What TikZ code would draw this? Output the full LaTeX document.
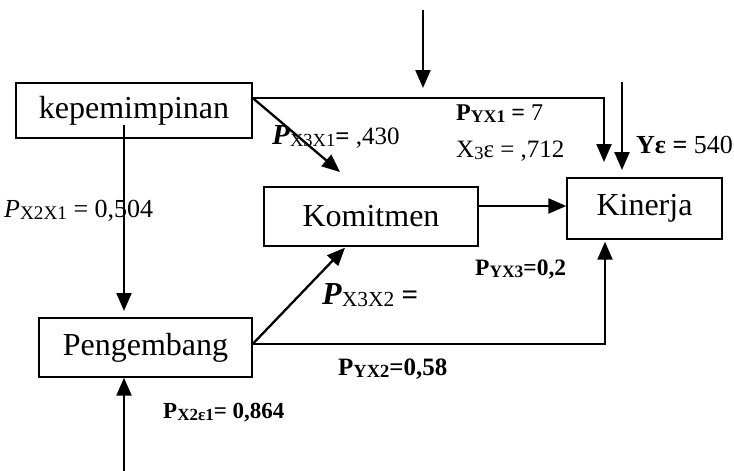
\documentclass[tikz,border=0pt]{standalone}
\usepackage{fontspec}
\setmainfont{Liberation Serif}
\usetikzlibrary{arrows.meta}

% small lowered index for path coefficients
\newcommand\sbs[1]{\raisebox{-0.1em}{\scalebox{0.74}{#1}}}
\newcommand\fsz[1]{\fontsize{#1}{#1}\selectfont}

\tikzset{
  varbox/.style={draw, line width=1.4pt, rectangle, inner sep=0pt, font=\fsz{32}},
  link/.style={line width=2.3pt, -{Triangle[length=18pt,width=15pt]}},
  coef/.style={anchor=base west, inner sep=0pt},
}

\begin{document}
\begin{tikzpicture}[x=1pt,y=-1pt]
  \useasboundingbox (0,0) rectangle (734,471);

  % variables
  \node[varbox, minimum width=236pt, minimum height=55pt] (kep) at (134,110.5) {kepemimpinan};
  \node[varbox, minimum width=214pt, minimum height=59pt] (kom) at (371,216.5) {Komitmen};
  \node[varbox, minimum width=155pt, minimum height=61pt] (kin) at (644.5,208.5) {Kinerja};
  \node[varbox, minimum width=213pt, minimum height=59pt] (pen) at (145.5,347.5) {Pengembang};

  % free ends of the connectors
  \coordinate (kepR) at ([yshift=12.5pt]kep.east);
  \coordinate (kepIn) at (124,125);
  \coordinate (eTop) at (423,10);
  \coordinate (eTopEnd) at (423,88);
  \coordinate (eY) at (622,82);
  \coordinate (eYEnd) at (622,170);
  \coordinate (x1yEnd) at (604,162);
  \coordinate (x1x3End) at (340,172);
  \coordinate (x1x2End) at (124,311);
  \coordinate (penR) at ([yshift=3.5pt]pen.east);
  \coordinate (komR) at ([yshift=10.5pt]kom.east);
  \coordinate (eX2) at (124,471);

  % paths
  \draw[link] (eTop) -- (eTopEnd);
  \draw[link] (eY) -- (eYEnd);
  \draw[link] (kepR) -| (x1yEnd);
  \draw[link] (kepR) -- (x1x3End);
  \draw[link] (kepIn) -- (x1x2End);
  \draw[link] (penR) -- ([xshift=-26pt,yshift=-1pt]kom.south);
  \draw[link] (penR) -| ([xshift=-39.5pt,yshift=-2pt]kin.south);
  \draw[link] (komR) -- (komR -| kin.west);
  \draw[link] (eX2) -- (pen.south -| eX2);

  % coefficients
  \node[coef, font=\fsz{26}] (c21) at (4,217) {\textit{P}\sbs{X2X1} = 0,504};
  \node[coef, font=\fsz{25}] (c31) at (272,144) {\textbf{\textit{\fsz{29}P}}\sbs{X3X1}\textbf{=} ,430};
  \node[coef, font=\fsz{24}] (cy1) at (456,120) {\textbf{P\sbs{YX1} =} 7};
  \node[coef, font=\fsz{25}] (c3e) at (456,157) {X\sbs{3}ε = ,712};
  \node[coef, font=\fsz{26}] (cye) at (636,153) {\textbf{Yε =} 540};
  \node[coef, font=\fsz{23.5}] (cy3) at (475,275) {\textbf{P\sbs{YX3}=0,2}};
  \node[coef, font=\fsz{29}] (c32) at (322,304) {\textbf{\textit{\fsz{32}P}}\sbs{X3X2} \textbf{=}};
  \node[coef, font=\fsz{25}] (cy2) at (338,375) {\textbf{P\sbs{YX2}=0,58}};
  \node[coef, font=\fsz{23}] (c2e) at (163,418) {\textbf{P\sbs{X2ε1}= 0,864}};
\end{tikzpicture}
\end{document}
